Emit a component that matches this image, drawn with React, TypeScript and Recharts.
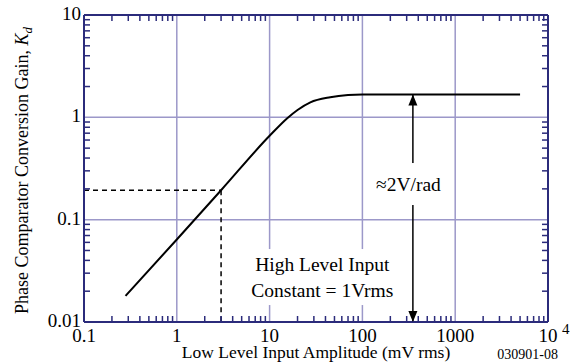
import React from "react";
import {
  ComposedChart,
  Line,
  XAxis,
  YAxis,
  CartesianGrid,
  ReferenceLine,
  ReferenceDot,
} from "recharts";

// ---- data ----
const amplitude = [0.28, 1, 3, 10, 15.5, 20, 27.5, 45, 70, 100, 5000];
const gain = [0.018, 0.064, 0.194, 0.66, 0.98, 1.18, 1.4, 1.57, 1.65, 1.67, 1.67];

const xMajorTicks = [0.1, 1, 10, 100, 1000, 10000];
const xTickLabels = [
  { base: "0.1", sup: "" },
  { base: "1", sup: "" },
  { base: "10", sup: "" },
  { base: "100", sup: "" },
  { base: "1000", sup: "" },
  { base: "10", sup: "4" },
];
const yMajorTicks = [0.01, 0.1, 1, 10];
const yTickLabels = ["0.01", "0.1", "1", "10"];

const minorMultipliers = [2, 3, 4, 5, 6, 7, 8, 9];
const xDecades = [0.1, 1, 10, 100, 1000];
const yDecades = [0.01, 0.1, 1];

const markerX = 3;
const markerY = 0.194;
const arrowX = 350;
const arrowTop = 1.67;
const arrowBottom = 0.01;

const slopeNote = { x: 313, y: 0.223, lines: ["≈2V/rad"] };
const inputNote = { x: 37, y: 0.0275, lines: ["High Level Input", "Constant = 1Vrms"] };

const xTitle = "Low Level Input Amplitude (mV rms)";
const yTitle = "Phase Comparator Conversion Gain, ";
const figureCode = "030901-08";

// ---- derived ----
const data = amplitude.map((x, i) => ({ x, y: gain[i] }));
const xMinor = xDecades.flatMap((d) => minorMultipliers.map((m) => +(d * m).toPrecision(3)));
const yMinor = yDecades.flatMap((d) => minorMultipliers.map((m) => +(d * m).toPrecision(3)));

const FONT = "'Liberation Serif', serif";
const NAVY = "#2b2b7b";
const GRID = "#9c98c9";

const txt = (size: number, extra: any = {}) => ({ fontFamily: FONT, fontSize: size, fill: "#000", ...extra });

const XTick = (props: any) => {
  const { x, y, payload } = props;
  const i = xMajorTicks.indexOf(payload.value);
  const lab = xTickLabels[i] || { base: String(payload.value), sup: "" };
  return (
    <g>
      <text x={x} y={y + 20} textAnchor="middle" style={txt(19)}>
        {lab.base}
      </text>
      {lab.sup ? (
        <text x={x + 14} y={y + 12} textAnchor="start" style={txt(15)}>
          {lab.sup}
        </text>
      ) : null}
    </g>
  );
};

const YTick = (props: any) => {
  const { x, y, payload } = props;
  const i = yMajorTicks.indexOf(payload.value);
  return (
    <text x={x - 3} y={y + 5} textAnchor="end" style={txt(19)}>
      {yTickLabels[i]}
    </text>
  );
};

const XTitle = (props: any) => {
  const vb = props.viewBox || {};
  return (
    <g>
      <text x={vb.x + vb.width / 2} y={vb.y + 36} textAnchor="middle" style={txt(17.5)}>
        {xTitle}
      </text>
      <text x={vb.x + vb.width + 10} y={vb.y + 37} textAnchor="end" style={txt(14)}>
        {figureCode}
      </text>
    </g>
  );
};

const YTitle = (props: any) => {
  const vb = props.viewBox || {};
  const cx = 28;
  const cy = vb.y + vb.height / 2 + 2;
  return (
    <text
      x={cx}
      y={cy}
      transform={`rotate(-90, ${cx}, ${cy})`}
      textAnchor="middle"
      style={txt(18)}
    >
      {yTitle}
      <tspan style={{ fontStyle: "italic" }}>K</tspan>
      <tspan style={{ fontStyle: "italic", fontSize: 13 }} dy={4}>d</tspan>
    </text>
  );
};

const noTick = () => <g />;

const makeNote = (lines: string[], w: number, h: number) => (props: any) => {
  const { cx, cy } = props;
  const lh = 26;
  const top = cy - ((lines.length - 1) * lh) / 2;
  return (
    <g>
      <rect x={cx - w / 2} y={cy - h / 2} width={w} height={h} fill="#fff" />
      {lines.map((t, i) => (
        <text key={i} x={cx} y={top + i * lh + 7} textAnchor="middle" style={txt(19.5)}>
          {t}
        </text>
      ))}
    </g>
  );
};

const ArrowHead = (dir: "up" | "down") => (props: any) => {
  const { cx, cy } = props;
  const s = dir === "up" ? 1 : -1;
  return (
    <path
      d={`M ${cx} ${cy} L ${cx - 4.5} ${cy + s * 11} L ${cx + 4.5} ${cy + s * 11} Z`}
      fill="#000"
    />
  );
};

export default function App() {
  return (
    <div style={{ position: "absolute", left: 0, top: 0, width: 579, height: 363, background: "#fff", fontFamily: FONT }}>
      <ComposedChart width={579} height={363} data={data} margin={{ top: 15, right: 31, bottom: 0, left: 0 }}>
        <CartesianGrid stroke={GRID} strokeWidth={1.5} />
        <XAxis
          dataKey="x"
          type="number"
          scale="log"
          domain={[0.1, 10000]}
          allowDataOverflow
          ticks={xMajorTicks}
          interval={0}
          tickLine={false}
          tickSize={0}
          tickMargin={0}
          tick={<XTick />}
          axisLine={{ stroke: NAVY, strokeWidth: 2 }}
          height={41}
          label={<XTitle />}
        />
        <XAxis
          xAxisId="minB"
          dataKey="x"
          type="number"
          scale="log"
          domain={[0.1, 10000]}
          allowDataOverflow
          orientation="bottom"
          mirror
          ticks={xMinor}
          interval={0}
          tickSize={6}
          tickLine={{ stroke: NAVY, strokeWidth: 1.5 }}
          tick={noTick}
          axisLine={false}
        />
        <XAxis
          xAxisId="minT"
          dataKey="x"
          type="number"
          scale="log"
          domain={[0.1, 10000]}
          allowDataOverflow
          orientation="top"
          mirror
          ticks={xMinor}
          interval={0}
          tickSize={6}
          tickLine={{ stroke: NAVY, strokeWidth: 1.5 }}
          tick={noTick}
          axisLine={{ stroke: NAVY, strokeWidth: 2 }}
        />
        <YAxis
          dataKey="y"
          type="number"
          scale="log"
          domain={[0.01, 10]}
          allowDataOverflow
          ticks={yMajorTicks}
          interval={0}
          tickLine={false}
          tickSize={0}
          tickMargin={0}
          tick={<YTick />}
          axisLine={{ stroke: NAVY, strokeWidth: 2 }}
          width={84}
          label={<YTitle />}
        />
        <YAxis
          yAxisId="minL"
          type="number"
          scale="log"
          domain={[0.01, 10]}
          allowDataOverflow
          orientation="left"
          mirror
          ticks={yMinor}
          interval={0}
          tickSize={6}
          tickLine={{ stroke: NAVY, strokeWidth: 1.5 }}
          tick={noTick}
          axisLine={false}
        />
        <YAxis
          yAxisId="minR"
          type="number"
          scale="log"
          domain={[0.01, 10]}
          allowDataOverflow
          orientation="right"
          mirror
          ticks={yMinor}
          interval={0}
          tickSize={6}
          tickLine={{ stroke: NAVY, strokeWidth: 1.5 }}
          tick={noTick}
          axisLine={{ stroke: NAVY, strokeWidth: 2 }}
        />
        <ReferenceLine
          segment={[{ x: 0.1, y: markerY }, { x: markerX, y: markerY }]}
          stroke="#000"
          strokeWidth={1.5}
          strokeDasharray="5 4"
        />
        <ReferenceLine
          segment={[{ x: markerX, y: markerY }, { x: markerX, y: 0.01 }]}
          stroke="#000"
          strokeWidth={1.5}
          strokeDasharray="5 4"
        />
        <Line
          dataKey="y"
          type="monotone"
          stroke="#000"
          strokeWidth={2}
          dot={false}
          activeDot={false}
          isAnimationActive={false}
        />
        <ReferenceLine
          segment={[{ x: arrowX, y: arrowTop }, { x: arrowX, y: arrowBottom }]}
          stroke="#000"
          strokeWidth={1.5}
        />
        <ReferenceDot x={arrowX} y={arrowTop} r={0} shape={ArrowHead("up")} />
        <ReferenceDot x={arrowX} y={arrowBottom} r={0} shape={ArrowHead("down")} />
        <ReferenceDot x={slopeNote.x} y={slopeNote.y} r={0} shape={makeNote(slopeNote.lines, 74, 42)} />
        <ReferenceDot x={inputNote.x} y={inputNote.y} r={0} shape={makeNote(inputNote.lines, 146, 56)} />
      </ComposedChart>
    </div>
  );
}
